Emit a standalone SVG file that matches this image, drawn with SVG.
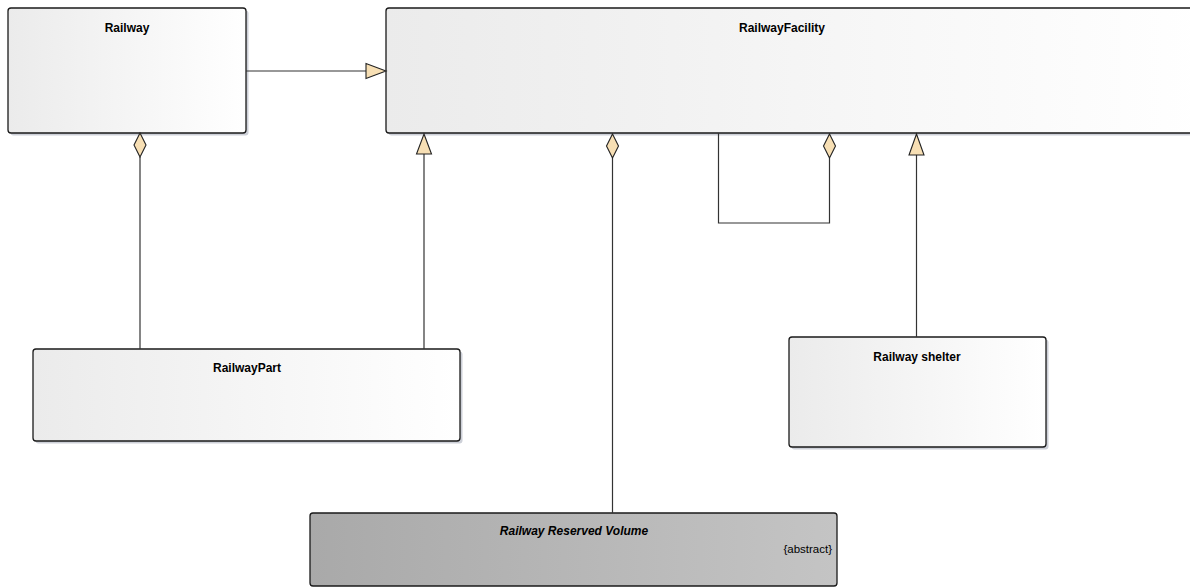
<svg xmlns="http://www.w3.org/2000/svg" width="1190" height="588" viewBox="0 0 1190 588">
<defs>
<linearGradient id="gLight" x1="0" y1="0" x2="1" y2="0">
<stop offset="0" stop-color="#ebebeb"/>
<stop offset="1" stop-color="#ffffff"/>
</linearGradient>
<linearGradient id="gDark" x1="0" y1="0" x2="1" y2="0">
<stop offset="0" stop-color="#a9a9a9"/>
<stop offset="1" stop-color="#c4c4c4"/>
</linearGradient>
<style>
.box{stroke:#1a1a1a;stroke-width:1.3;fill:url(#gLight)}
.abs{stroke:#1a1a1a;stroke-width:1.3;fill:url(#gDark)}
.shadow{fill:#cdd0d8}
.title{font-family:"Liberation Sans",Arial,sans-serif;font-size:12px;font-weight:bold;fill:#000;text-anchor:middle}
.ital{font-style:italic}
.tag{font-family:"Liberation Sans",Arial,sans-serif;font-size:11.5px;fill:#000;text-anchor:end}
.line{stroke:#333;stroke-width:1.2;fill:none}
.head{fill:#f7dfb4;stroke:#222;stroke-width:1.1}
</style>
</defs>
<rect width="1190" height="588" fill="#ffffff"/>

<g id="Railway">
<rect class="shadow" x="10.5" y="10.5" width="238" height="125" rx="3"/>
<rect class="box" x="8" y="8" width="238" height="125" rx="3"/>
<text class="title" x="127" y="32">Railway</text>
</g>

<g id="RailwayFacility">
<rect class="shadow" x="388.5" y="10.5" width="820" height="125" rx="3"/>
<rect class="box" x="386" y="8" width="820" height="125" rx="3"/>
<text class="title" x="782" y="32">RailwayFacility</text>
</g>

<g id="RailwayPart">
<rect class="shadow" x="35.5" y="351.5" width="427" height="92" rx="3"/>
<rect class="box" x="33" y="349" width="427" height="92" rx="3"/>
<text class="title" x="247" y="372">RailwayPart</text>
</g>

<g id="RailwayShelter">
<rect class="shadow" x="791.5" y="339.5" width="257" height="110" rx="3"/>
<rect class="box" x="789" y="337" width="257" height="110" rx="3"/>
<text class="title" x="917" y="361">Railway shelter</text>
</g>

<g id="RailwayReservedVolume">
<rect class="abs" x="310" y="513" width="527" height="73" rx="3"/>
<text class="title ital" x="574" y="535">Railway Reserved Volume</text>
<text class="tag" x="832" y="553">{abstract}</text>
</g>

<g id="connectors">
<line class="line" x1="246" y1="71" x2="366" y2="71"/>
<polygon class="head" points="386,71 366,63.5 366,78.5"/>
<line class="line" x1="140" y1="157" x2="140" y2="349"/>
<polygon class="head" points="140,133 146,145 140,157 134,145"/>
<line class="line" x1="424" y1="154" x2="424" y2="349"/>
<polygon class="head" points="424,134 431.5,154 416.5,154"/>
<line class="line" x1="612.5" y1="158" x2="612.5" y2="513"/>
<polygon class="head" points="612.5,134 618.5,146 612.5,158 606.5,146"/>
<polyline class="line" points="718.5,133 718.5,223 829.5,223 829.5,158"/>
<polygon class="head" points="829.5,134 835.5,146 829.5,158 823.5,146"/>
<line class="line" x1="916.5" y1="155" x2="916.5" y2="337"/>
<polygon class="head" points="916.5,134 924,155 909,155"/>
</g>
</svg>
